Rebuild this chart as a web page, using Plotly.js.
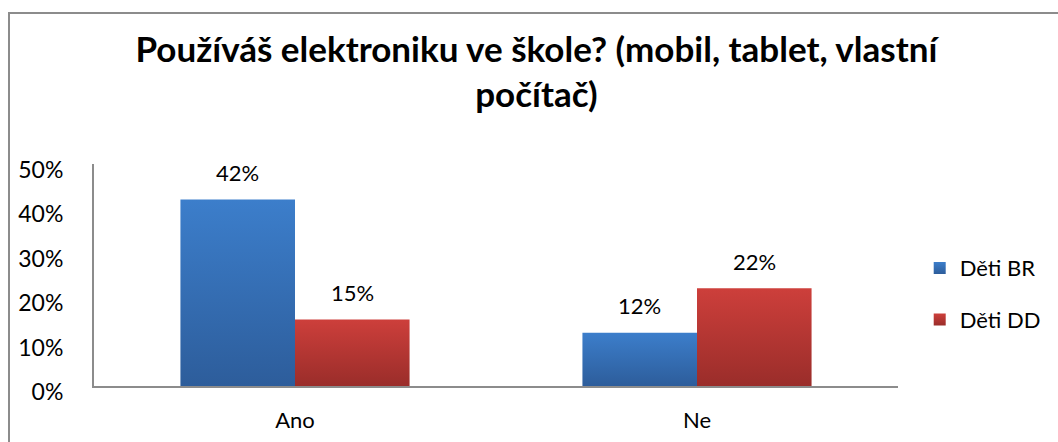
<!DOCTYPE html>
<html>
<head>
<meta charset="utf-8">
<script src="https://cdn.plot.ly/plotly-3.0.1.min.js"></script>
<style>
html,body{margin:0;padding:0;background:#fff;}
#wrap{position:relative;width:1058px;height:442px;overflow:hidden;}
#chart{position:absolute;left:0;top:0;width:1058px;height:442px;}
#frame{position:absolute;left:8px;top:12px;width:1100px;height:500px;border-left:2px solid #8c8c8c;border-top:2px solid #8c8c8c;pointer-events:none;}
</style>
</head>
<body>
<div id="wrap"><div id="chart"></div><div id="frame"></div></div>
<script>
const categories = ["Ano", "Ne"];
const seriesNames = ["Děti BR", "Děti DD"];
const detiBR = [42, 12];
const detiDD = [15, 22];
const yTickVals = [0, 10, 20, 30, 40, 50];
const yTickText = ["0%", "10%", "20%", "30%", "40%", "50%"];
const titleText = "Používáš elektroniku ve škole? (mobil, tablet, vlastní<br>počítač)";

const colors = ["#376fb6", "#b73835"];
const gradTop = ["#3c7ecb", "#cd3f3b"];
const gradBottom = ["#2d5d9b", "#9a2d2a"];
const font = "Lato, 'Open Sans', sans-serif";
const bargap = 0.43;
const off = (1 - bargap) / 4;

const traces = [detiBR, detiDD].map((vals, i) => ({
  type: "bar",
  name: seriesNames[i],
  x: categories,
  y: vals,
  marker: {color: colors[i], line: {width: 0}},
  legendgroup: "g" + i,
  hoverinfo: "none"
}));

const annotations = [];
[detiBR, detiDD].forEach((vals, i) => {
  vals.forEach((v, j) => {
    annotations.push({
      xref: "x", yref: "y",
      x: j + (i === 0 ? -off : off),
      y: v,
      text: v + "%",
      showarrow: false,
      yshift: 27,
      font: {family: font, size: 22, color: "#000"}
    });
  });
});

const layout = {
  width: 1058, height: 442,
  margin: {l: 94, r: 160, t: 164, b: 56, autoexpand: false},
  paper_bgcolor: "#fff", plot_bgcolor: "#fff",
  barmode: "group",
  bargap: bargap,
  bargroupgap: 0,
  title: {
    text: titleText,
    font: {family: font, size: 35, color: "#000", weight: "bold"},
    x: 0.507, xanchor: "center",
    y: 0.86, yanchor: "middle"
  },
  xaxis: {
    type: "category",
    showline: true, linecolor: "#8c8c8c", linewidth: 2,
    ticks: "", showgrid: false, zeroline: false,
    tickfont: {family: font, size: 22, color: "#000"},
    ticklabelstandoff: 14,
    automargin: false
  },
  yaxis: {
    range: [0, 50],
    tickvals: yTickVals, ticktext: yTickText,
    showline: true, linecolor: "#8c8c8c", linewidth: 2,
    ticks: "", showgrid: false, zeroline: false,
    tickfont: {family: font, size: 23, color: "#000"},
    ticklabelstandoff: 24,
    ticklabelshift: 6,
    automargin: false
  },
  legend: {
    x: 1.027, xanchor: "left",
    y: 0.414, yanchor: "middle",
    font: {family: font, size: 22, color: "#000"},
    traceorder: "grouped",
    tracegroupgap: 20,
    itemwidth: 30,
    bgcolor: "rgba(0,0,0,0)"
  },
  annotations: annotations,
  showlegend: true
};

Plotly.newPlot("chart", traces, layout, {displayModeBar: false, staticPlot: true}).then(gd => {
  const svg = gd.querySelector("svg.main-svg");
  const ns = "http://www.w3.org/2000/svg";
  let defs = svg.querySelector("defs");
  if (!defs) { defs = document.createElementNS(ns, "defs"); svg.insertBefore(defs, svg.firstChild); }
  colors.forEach((c, i) => {
    const lg = document.createElementNS(ns, "linearGradient");
    lg.setAttribute("id", "barGrad" + i);
    lg.setAttribute("x1", "0"); lg.setAttribute("y1", "0");
    lg.setAttribute("x2", "0"); lg.setAttribute("y2", "1");
    [[0, gradTop[i]], [1, gradBottom[i]]].forEach(([o, col]) => {
      const s = document.createElementNS(ns, "stop");
      s.setAttribute("offset", o);
      s.setAttribute("stop-color", col);
      lg.appendChild(s);
    });
    defs.appendChild(lg);
  });
  gd.querySelectorAll(".barlayer .trace").forEach((t, i) => {
    t.querySelectorAll("path").forEach(p => { p.style.fill = "url(#barGrad" + i + ")"; });
  });
  gd.querySelectorAll(".legend .traces").forEach((t, i) => {
    t.querySelectorAll(".legendpoints path").forEach(p => { p.style.fill = "url(#barGrad" + i + ")"; });
  });
});
</script>
</body>
</html>
